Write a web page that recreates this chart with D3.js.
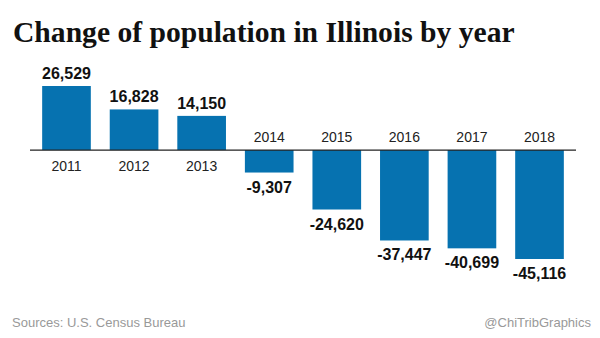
<!DOCTYPE html>
<html><head><meta charset="utf-8">
<script src="https://cdn.jsdelivr.net/npm/d3@7"></script>
<style>body{margin:0;background:#fff}</style>
</head><body>
<svg id="c" width="600" height="338"></svg>
<script>
const years = ["2011","2012","2013","2014","2015","2016","2017","2018"];
const changes = [26529, 16828, 14150, -9307, -24620, -37447, -40699, -45116];
const title = "Change of population in Illinois by year";
const source = "Sources: U.S. Census Bureau";
const credit = "@ChiTribGraphics";

const svg = d3.select("#c");
const x = d3.scaleBand().domain(years).range([30, 576]).paddingInner(0.28).paddingOuter(0.18);
const y = d3.scaleLinear().domain([-45116, 26529]).range([259, 86]);
const fmt = v => d3.format(",")(v).replace("\u2212","-");
const data = years.map((yr,i)=>({yr, v: changes[i]}));

svg.append("text").attr("x",13).attr("y",42)
  .attr("font-family","'Liberation Serif','DejaVu Serif',serif").attr("font-weight","bold")
  .attr("font-size",29.6).attr("fill","#111").text(title);

svg.selectAll("rect.bar").data(data).join("rect").attr("class","bar")
  .attr("x",d=>x(d.yr)).attr("width",x.bandwidth())
  .attr("y",d=>Math.min(y(d.v),y(0))).attr("height",d=>Math.abs(y(d.v)-y(0)))
  .attr("fill","#0672b0");

svg.append("line").attr("x1",30).attr("x2",576).attr("y1",y(0)).attr("y2",y(0))
  .attr("stroke","#222").attr("stroke-width",1.2);

const sans = "'Liberation Sans',Arial,sans-serif";
svg.selectAll("text.val").data(data).join("text").attr("class","val")
  .attr("x",d=>x(d.yr)+x.bandwidth()/2)
  .attr("y",d=>d.v>=0 ? y(d.v)-7 : y(d.v)+20)
  .attr("text-anchor","middle").attr("font-family",sans).attr("font-weight","bold")
  .attr("font-size",16).attr("fill","#111").text(d=>fmt(d.v));

svg.selectAll("text.yr").data(data).join("text").attr("class","yr")
  .attr("x",d=>x(d.yr)+x.bandwidth()/2)
  .attr("y",d=>d.v>=0 ? y(0)+21 : y(0)-8)
  .attr("text-anchor","middle").attr("font-family",sans)
  .attr("font-size",14).attr("fill","#222").text(d=>d.yr);

svg.append("text").attr("x",12).attr("y",327).attr("font-family",sans)
  .attr("font-size",13).attr("fill","#999").text(source);
svg.append("text").attr("x",591).attr("y",327).attr("text-anchor","end").attr("font-family",sans)
  .attr("font-size",13).attr("fill","#999").text(credit);
</script>
</body></html>
